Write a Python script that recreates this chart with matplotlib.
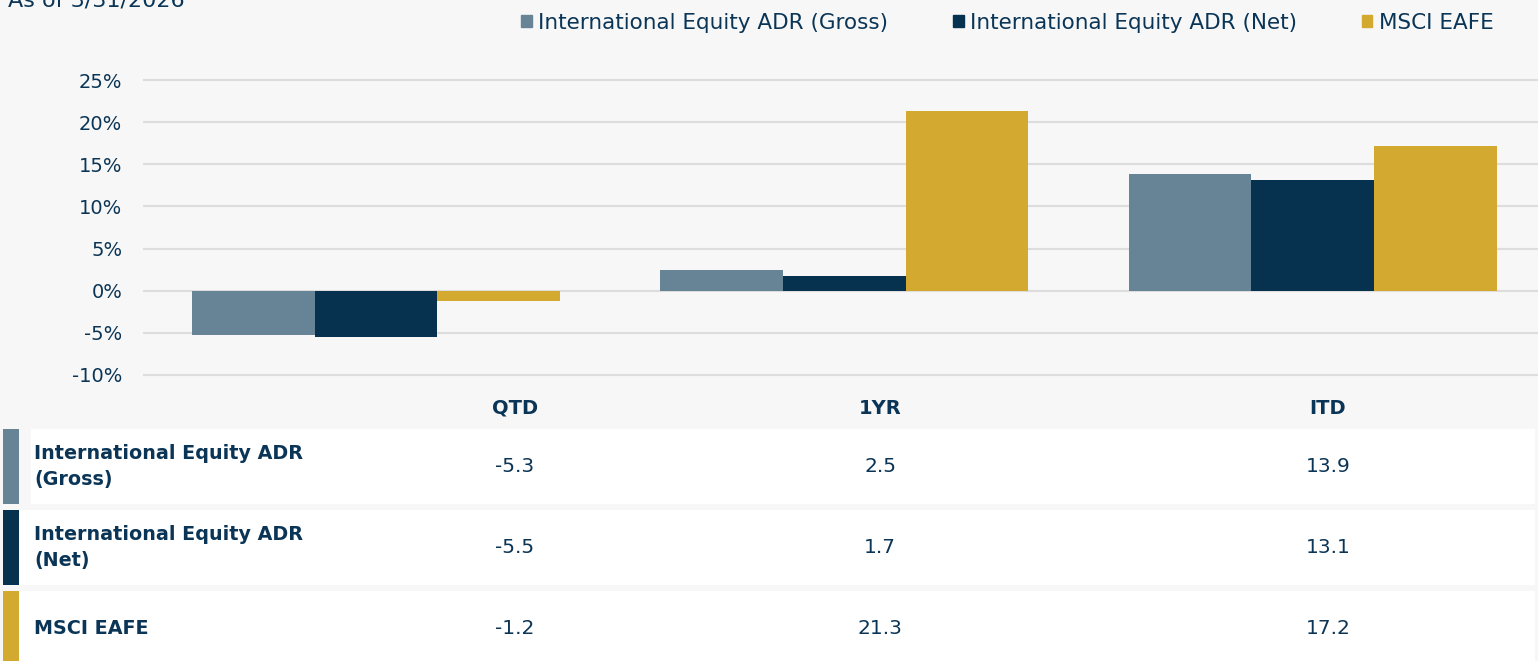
import matplotlib.pyplot as plt
from matplotlib.patches import Patch, Rectangle
import numpy as np

# data
periods = ['QTD', '1YR', 'ITD']
series_names = ['International Equity ADR (Gross)', 'International Equity ADR (Net)', 'MSCI EAFE']
row_labels = ['International Equity ADR\n(Gross)', 'International Equity ADR\n(Net)', 'MSCI EAFE']
gross = [-5.3, 2.5, 13.9]
net = [-5.5, 1.7, 13.1]
msci = [-1.2, 21.3, 17.2]
y_ticks = [-10, -5, 0, 5, 10, 15, 20, 25]
as_of = 'As of 3/31/2026'

colors = ['#678496', '#06324f', '#d3aa2f']
navy = '#0b3556'
bg = '#f7f7f7'
W, H = 1538, 661

plt.rcParams['font.family'] = ['DejaVu Sans']

fig = plt.figure(figsize=(W / 100, H / 100), dpi=100, facecolor=bg)

# bar chart area (pixel box 143..1538 x 75.8..379.2)
ax = fig.add_axes([143 / W, 1 - 379.2 / H, (W - 143) / W, (379.2 - 75.8) / H])
ax.set_facecolor(bg)
x = np.arange(len(periods))
w = 0.2617
for k, vals in enumerate([gross, net, msci]):
    ax.bar(x + (k - 1) * w, vals, width=w, color=colors[k], zorder=3)

ax.set_xlim(-0.497, 2.481)
ax.set_ylim(-10.5, 25.5)
ax.set_yticks(y_ticks)
ax.set_yticklabels([f'{t}%' for t in y_ticks], color=navy, fontsize=14)
ax.tick_params(axis='y', length=0, pad=15)
ax.set_xticks([])
ax.grid(axis='y', color='#dddddd', linewidth=1.5, zorder=0)
for s in ax.spines.values():
    s.set_visible(False)

# legend
handles = [Patch(color=c) for c in colors]
fig.legend(handles, series_names, loc='center left', bbox_to_anchor=(521 / W, 1 - 23 / H),
           ncol=3, frameon=False, fontsize=15.5, labelcolor=navy,
           handlelength=0.5, handleheight=0.5, handletextpad=0.3, columnspacing=3.0,
           borderpad=0, borderaxespad=0)

# as-of text, partially off the top edge
fig.text(8 / W, 1 - 7 / H, as_of, fontsize=16, color=navy, va='baseline', ha='left')

# table overlay in pixel coordinates
tab = fig.add_axes([0, 0, 1, 1], facecolor='none')
tab.set_xlim(0, W)
tab.set_ylim(H, 0)
tab.axis('off')

col_x = [515, 880, 1328]
for cx, p in zip(col_x, periods):
    tab.text(cx, 408, p, ha='center', va='center', fontsize=14, fontweight='bold', color=navy)

row_tops = [429, 510, 591]
row_bottoms = [504, 585, 661]
rows = [gross, net, msci]
for i in range(3):
    top, bot = row_tops[i], row_bottoms[i]
    tab.add_patch(Rectangle((3, top), 16, bot - top, color=colors[i], lw=0))
    left = 31 if i == 0 else 19
    tab.add_patch(Rectangle((left, top), 1535 - left, bot - top, color='white', lw=0))
    yc = (top + bot) / 2 + (3 if i == 2 else 0)
    tab.text(34, yc, row_labels[i], ha='left', va='center', fontsize=13.8, fontweight='bold',
             color=navy, linespacing=1.45)
    for cx, v in zip(col_x, rows[i]):
        tab.text(cx, yc, f'{v:.1f}', ha='center', va='center', fontsize=14.5, color=navy)

fig.savefig('out.png', dpi=100, facecolor=bg)
